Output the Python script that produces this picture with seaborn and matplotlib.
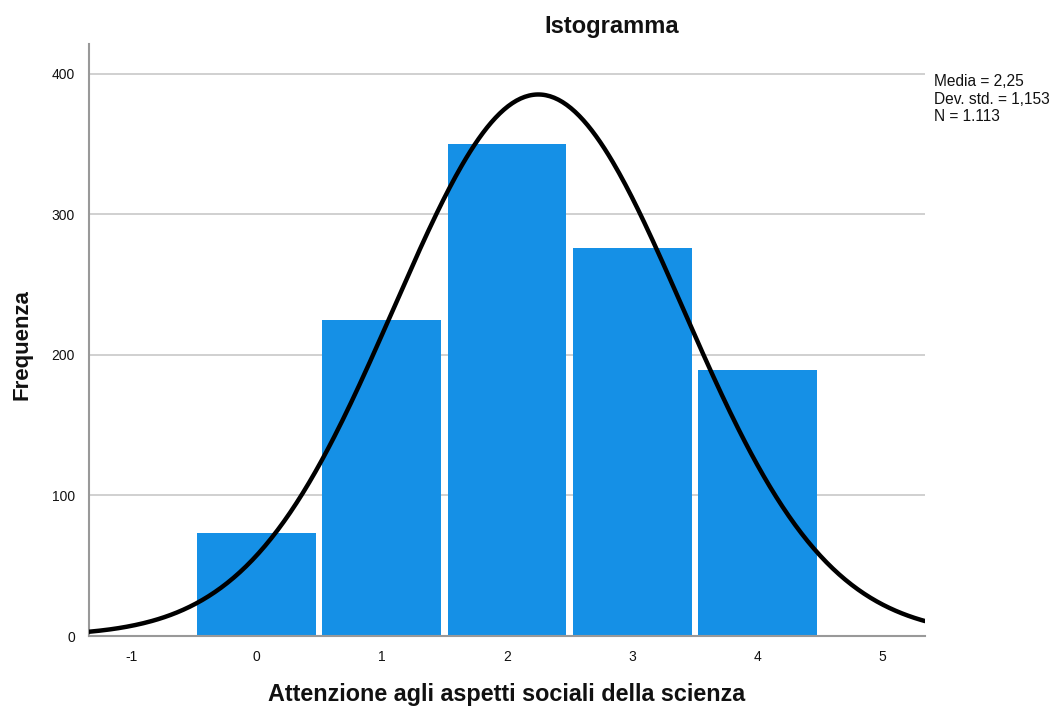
import numpy as np
import pandas as pd
import matplotlib
matplotlib.use("Agg")
import matplotlib.pyplot as plt
import seaborn as sns

# Data
values = [0, 1, 2, 3, 4]
counts = [73, 225, 350, 276, 189]
mean_val = 2.25
sd_val = 1.153
n_val = 1113
x_ticks = [-1, 0, 1, 2, 3, 4, 5]
y_ticks = [0, 100, 200, 300, 400]
stats_lines = ["Media = 2,25", "Dev. std. = 1,153", "N = 1.113"]

sns.set_theme(style="white")
plt.rcParams['font.family'] = ['Liberation Sans', 'DejaVu Sans']

fig = plt.figure(figsize=(10.56, 7.08), dpi=100)
ax = fig.add_axes([89/1056, 1-636/708, (925-89)/1056, (636-44)/708])

df = pd.DataFrame({"v": values, "c": counts})
sns.histplot(data=df, x="v", weights="c", discrete=True, shrink=0.95,
             color="#1590E6", alpha=1, edgecolor="none", linewidth=0, ax=ax, zorder=2)

xs = np.linspace(-1.34, 5.34, 400)
ys = n_val * np.exp(-0.5 * ((xs - mean_val) / sd_val) ** 2) / (sd_val * np.sqrt(2 * np.pi))
sns.lineplot(x=xs, y=ys, color="black", linewidth=3.2, ax=ax, zorder=3)

ax.set_xlim(-1.34, 5.34)
ax.set_ylim(0, 421)
ax.set_xticks(x_ticks)
ax.set_xticklabels([str(t) for t in x_ticks])
ax.set_yticks(y_ticks)
ax.set_yticklabels([str(t) for t in y_ticks])
ax.tick_params(axis="both", length=0, labelsize=10, colors="#111111", pad=10)
ax.yaxis.grid(True, color="#c8c8c8", linewidth=1.2, zorder=0)
ax.set_axisbelow(True)
for s in ["top", "right"]:
    ax.spines[s].set_visible(False)
for s in ["left", "bottom"]:
    ax.spines[s].set_color("#999999")
    ax.spines[s].set_linewidth(1.5)

ax.set_xlabel("")
ax.set_ylabel("")
fig.text(507/1056, 1-695/708, "Attenzione agli aspetti sociali della scienza",
         ha="center", va="center", fontsize=16.8, fontweight="bold", color="#111111")
fig.text(22/1056, 1-345/708, "Frequenza", ha="center", va="center", rotation=90,
         fontsize=16, fontweight="bold", color="#111111")

fig.text(612/1056, 1-26/708, "Istogramma", ha="center", va="center", fontsize=17,
         fontweight="bold", color="#111111")
fig.text(934/1056, 1-99/708, "\n".join(stats_lines), ha="left", va="center",
         fontsize=11.2, linespacing=1.18, color="#111111")

fig.savefig("out.png", dpi=100)
